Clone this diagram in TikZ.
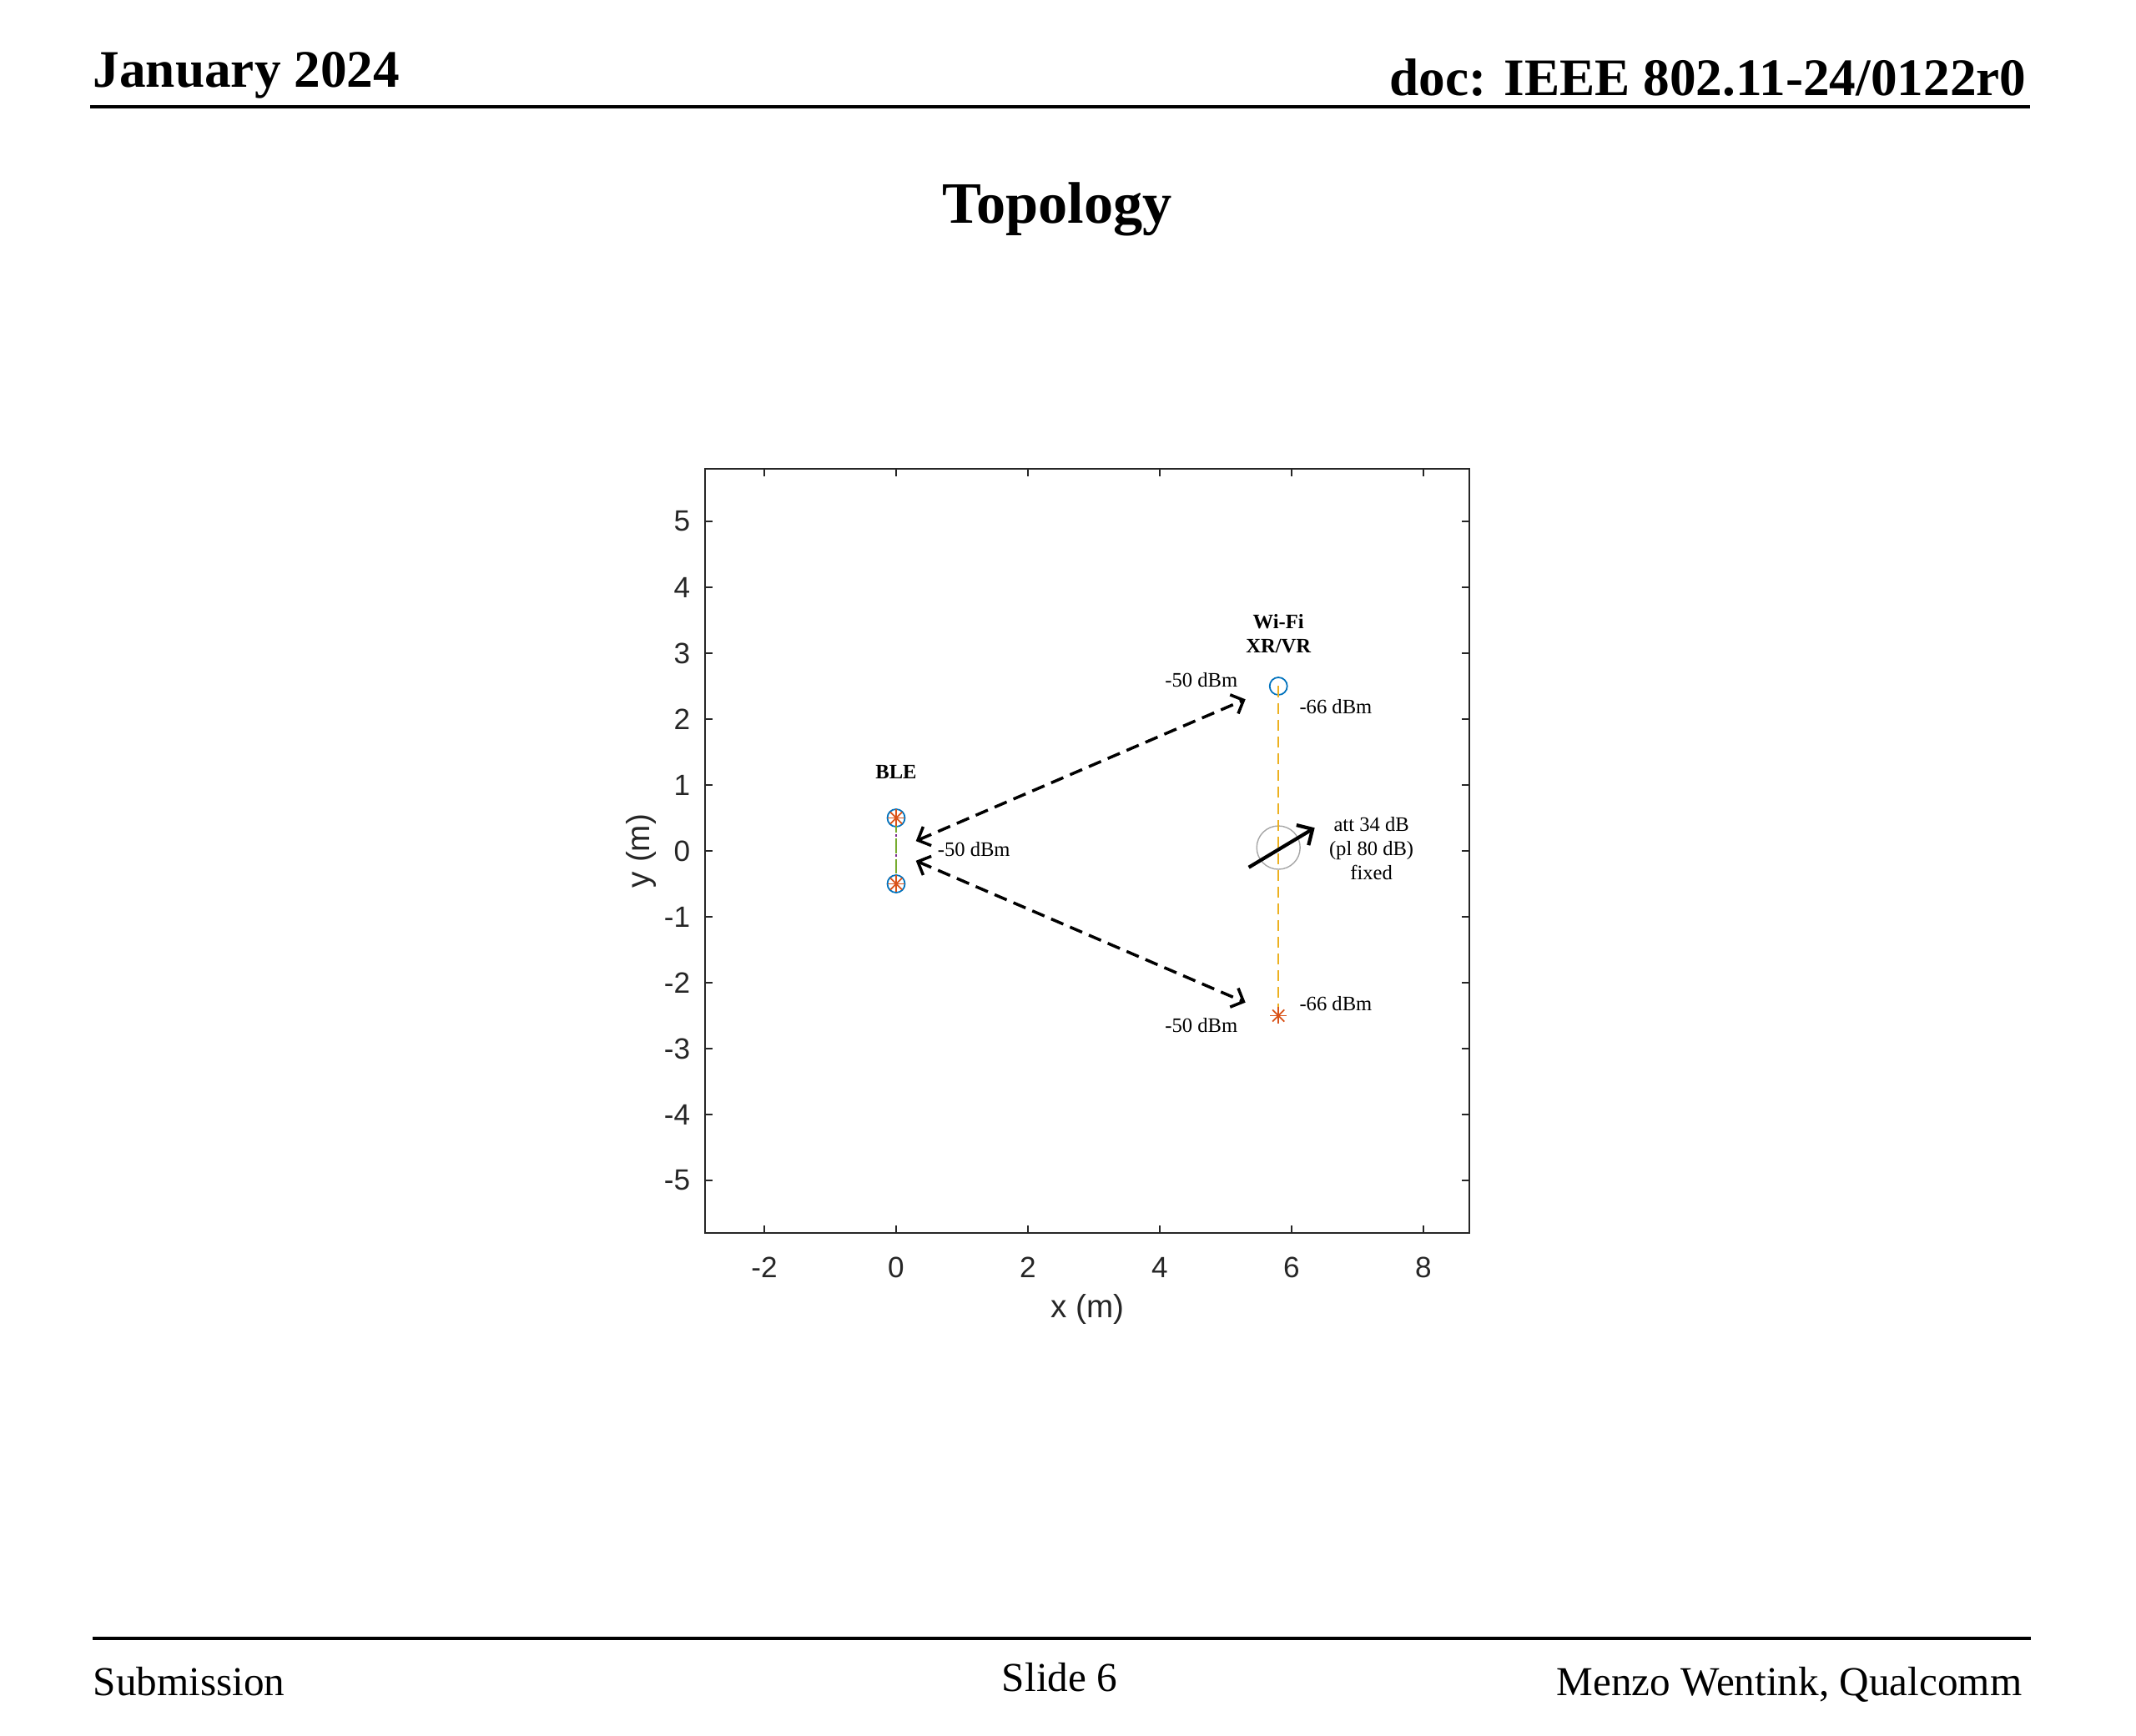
\documentclass[tikz,border=0pt]{standalone}
\usepackage{fontspec}
\setmainfont{Liberation Serif}
\newfontfamily\axfont{Liberation Sans}
\usepackage{xcolor}
\usetikzlibrary{arrows.meta,calc}

\definecolor{mblue}{rgb}{0,0.447,0.741}
\definecolor{morange}{rgb}{0.85,0.325,0.098}
\definecolor{myellow}{rgb}{0.929,0.694,0.125}
\definecolor{mpurple}{rgb}{0.494,0.184,0.556}
\definecolor{mgreen}{rgb}{0.466,0.674,0.188}
\definecolor{axgray}{rgb}{0.15,0.15,0.15}

\tikzset{
  lbl/.style={inner sep=0pt,align=center,font=\fontsize{7}{8.2}\selectfont},
  lblb/.style={lbl,font=\fontsize{7}{8.2}\selectfont\bfseries},
  ticklbl/.style={inner sep=0pt,text=axgray,font=\axfont\fontsize{10}{12}\selectfont},
  axlbl/.style={inner sep=0pt,text=axgray,font=\axfont\fontsize{11}{13}\selectfont},
  dev/.style={circle,draw=mblue,line width=0.5pt,minimum size=0.21cm,inner sep=0pt},
  link/.style={black,line width=1pt,dash pattern=on 4.5pt off 2.5pt,
    {Straight Barb[length=3.5pt,width=7pt]}-{Straight Barb[length=3.5pt,width=7pt]}},
  asterisk/.pic={\foreach \a in {0,45,90,135}
    \draw[morange,line width=0.5pt] (\a:0.1cm)--(\a+180:0.1cm);},
}

\begin{document}
\begin{tikzpicture}
\useasboundingbox (0,0) rectangle (25.6,20.8);

\node[anchor=base west,inner sep=0pt,font=\fontsize{18}{22}\selectfont\bfseries] (date) at (1.11,19.75) {January 2024};
\node[anchor=base east,inner sep=0pt,font=\fontsize{18}{22}\selectfont\bfseries] (doc) at (24.29,19.65) {doc: IEEE 802.11-24/0122r0};
\draw[line width=1.4pt] (1.08,19.52) -- (24.33,19.52);
\node[anchor=base,inner sep=0pt,font=\fontsize{20}{24}\selectfont\bfseries] (title) at (12.67,18.12) {Topology};

\draw[line width=1.4pt] (1.11,1.16) -- (24.34,1.16);
\node[anchor=base west,inner sep=0pt,font=\fontsize{14}{17}\selectfont] (sub) at (1.11,0.48) {Submission};
\node[anchor=base,inner sep=0pt,font=\fontsize{14}{17}\selectfont] (slide) at (12.70,0.53) {Slide 6};
\node[anchor=base east,inner sep=0pt,font=\fontsize{14}{17}\selectfont] (author) at (24.24,0.48) {Menzo Wentink, Qualcomm};

\begin{scope}[shift={(10.74,10.60)},x=0.79cm,y=0.79cm]
  \draw[axgray,line width=0.5pt] (-2.9,-5.8) rectangle (8.7,5.8);
  \foreach \x in {-2,0,...,8}{
    \draw[axgray,line width=0.5pt] (\x,-5.8) -- ++(0pt,0.09cm) (\x,5.8) -- ++(0pt,-0.09cm);
    \node[ticklbl] (xt\x) at (\x,-5.8) [yshift=-0.41cm] {\x};
  }
  \foreach \y in {-5,...,5}{
    \draw[axgray,line width=0.5pt] (-2.9,\y) -- ++(0.09cm,0pt) (8.7,\y) -- ++(-0.09cm,0pt);
    \node[ticklbl,anchor=east] (yt\y) at (-2.9,\y) [xshift=-0.17cm] {\y};
  }
  \node[axlbl] (xlab) at (2.9,-5.8) [yshift=-0.91cm] {x (m)};
  \node[axlbl,rotate=90] (ylab) at ($(-2.9,0)+(-0.76cm,0pt)$) {y (m)};

  \node[dev] (ble1) at (0,0.5) {};
  \node[dev] (ble2) at (0,-0.5) {};
  \node[dev] (ap) at (5.8,2.5) {};
  \coordinate (sta) at (5.8,-2.5);
  \node[circle,draw=gray!70,line width=0.4pt,minimum size=0.52cm,inner sep=0pt] (att) at (5.8,0.05) {};

  \draw[mgreen,line width=0.6pt,dash pattern=on 5pt off 2pt] (ble1.center) -- (ble2.center);
  \draw[mpurple,line width=0.6pt,dash pattern=on 0.8pt off 6.2pt,dash phase=-5.5pt] (ble1.center) -- (ble2.center);
  \draw[myellow,line width=0.6pt,dash pattern=on 3.7pt off 2pt] (ap.center) -- (sta);
  \pic at (ble1) {asterisk};
  \pic at (ble2) {asterisk};
  \pic at (sta) {asterisk};

  \coordinate (bleup) at (0.3,0.15);
  \coordinate (bledn) at (0.3,-0.15);
  \coordinate (apend) at (5.3,2.3);
  \coordinate (staend) at (5.3,-2.3);
  \draw[link] (bleup) -- (apend);
  \draw[link] (bledn) -- (staend);

  \coordinate (attin) at (5.35,-0.25);
  \coordinate (attout) at (6.35,0.35);
  \draw[line width=1.2pt,-{Straight Barb[length=4pt,width=8pt]}] (attin) -- (attout);

  \node[lblb] (blelbl) at (0,1.2) {BLE};
  \node[lblb] (wifilbl) at (5.8,3.3) {Wi-Fi\\XR/VR};
  \node[lbl] (apin) at (4.63,2.59) {-50 dBm};
  \node[lbl] (apout) at (6.67,2.19) {-66 dBm};
  \node[lbl] (blein) at (1.18,0.02) {-50 dBm};
  \node[lbl] (attlbl) at (7.21,0.04) {att 34 dB\\(pl 80 dB)\\fixed};
  \node[lbl] (staout) at (6.67,-2.32) {-66 dBm};
  \node[lbl] (stain) at (4.63,-2.65) {-50 dBm};
\end{scope}
\end{tikzpicture}
\end{document}
